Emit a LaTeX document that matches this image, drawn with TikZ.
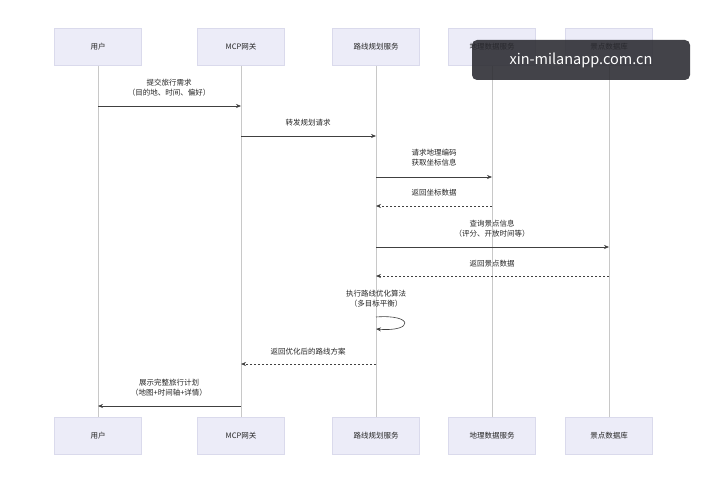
\documentclass[tikz,border=0pt]{standalone}
\usepackage{fontspec}
\setmainfont{Noto Sans CJK SC}
\usetikzlibrary{arrows.meta}
\definecolor{boxfill}{HTML}{ECECF8}
\definecolor{boxline}{HTML}{DADAEC}
\definecolor{life}{HTML}{C8C8C8}
\definecolor{wm}{HTML}{2A2A30}
\begin{document}
\begin{tikzpicture}[x=1pt,y=-1pt,
  part/.style={draw=boxline,fill=boxfill,minimum width=87pt,minimum height=37pt,inner sep=0pt,font=\fontsize{7.5}{8}\selectfont,text=black!85},
  lbl/.style={font=\fontsize{7.5}{10}\selectfont,align=center,text=black!85},
  msg/.style={draw=black!75,line width=0.6pt,-{Stealth[length=5pt,width=4pt]}},
  ret/.style={msg,dash pattern=on 2pt off 2pt}]
\fill[white] (0,0) rectangle (727,500);
\useasboundingbox (0,0) rectangle (727,500);
\foreach \n/\x/\t in {u/98/用户,g/241/MCP网关,r/376/路线规划服务,d/492/地理数据服务,s/609/景点数据库}{
  \draw[life,line width=0.6pt] (\x,65) -- (\x,417);
  \node[part] (\n top) at (\x,47) {\t};
  \node[part] (\n bot) at (\x,436) {\t};
}
\foreach \n/\x in {u/98,g/241,r/376,d/492,s/609}{
  \foreach \y in {106,136,177,206,247,276,317,329,364,406}{\coordinate (\n\y) at (\x,\y);}
}
\draw[msg] (u106) -- (g106);
\node[lbl] at (169,88) {提交旅行需求\\（目的地、时间、偏好）};
\draw[msg] (g136) -- (r136);
\node[lbl] at (308,123) {转发规划请求};
\draw[msg] (r177) -- (d177);
\node[lbl] at (434,158) {请求地理编码\\获取坐标信息};
\draw[ret] (d206) -- (r206);
\node[lbl] at (434,193) {返回坐标数据};
\draw[msg] (r247) -- (s247);
\node[lbl] at (492,229) {查询景点信息\\（评分、开放时间等）};
\draw[ret] (s276) -- (r276);
\node[lbl] at (492,264) {返回景点数据};
\node[lbl] at (376,299) {执行路线优化算法\\（多目标平衡）};
\draw[msg] (r317) .. controls (414,314) and (414,332) .. (r329);
\draw[ret] (r364) -- (g364);
\node[lbl] at (308,352) {返回优化后的路线方案};
\draw[msg] (g406) -- (u406);
\node[lbl] at (169,388) {展示完整旅行计划\\（地图+时间轴+详情）};
\node[fill=wm,fill opacity=0.88,text opacity=1,rounded corners=5pt,minimum width=218pt,minimum height=40pt,text=white,font=\fontsize{14.5}{16}\selectfont] (wmk) at (581,60) {xin-milanapp.com.cn};
\end{tikzpicture}
\end{document}
